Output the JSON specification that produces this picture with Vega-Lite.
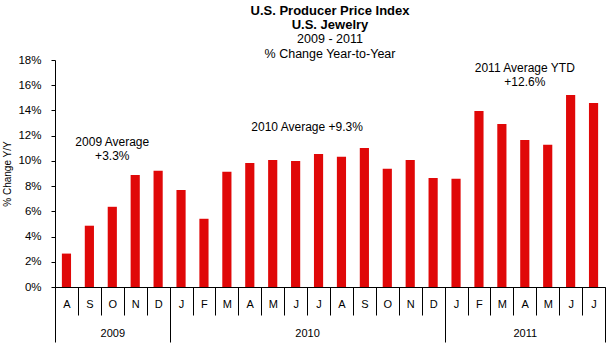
{
  "$schema": "https://vega.github.io/schema/vega-lite/v6.json",
  "width": 550,
  "height": 227,
  "autosize": {"type": "none"},
  "padding": {"left": 55, "top": 60, "right": 8, "bottom": 61},
  "background": "white",
  "config": {
    "font": "Liberation Sans",
    "view": {"stroke": null},
    "axis": {"domainColor": "black", "tickColor": "black", "labelColor": "black", "titleColor": "black", "grid": false, "labelFont": "Liberation Sans", "titleFont": "Liberation Sans"}
  },
  "title": {
    "text": ["U.S. Producer Price Index", "U.S. Jewelry"],
    "subtitle": ["2009 - 2011", "% Change  Year-to-Year"],
    "anchor": "middle",
    "frame": "group",
    "fontSize": 13,
    "fontWeight": "bold",
    "lineHeight": 14,
    "subtitleFontSize": 12.5,
    "subtitleLineHeight": 15,
    "subtitlePadding": 1,
    "subtitleColor": "black",
    "color": "black",
    "offset": -6
  },
  "data": {
    "values": [
      {"key": "2009-08", "value": 2.65},
      {"key": "2009-09", "value": 4.86},
      {"key": "2009-10", "value": 6.36},
      {"key": "2009-11", "value": 8.89},
      {"key": "2009-12", "value": 9.21},
      {"key": "2010-01", "value": 7.7},
      {"key": "2010-02", "value": 5.41},
      {"key": "2010-03", "value": 9.13},
      {"key": "2010-04", "value": 9.84},
      {"key": "2010-05", "value": 10.08},
      {"key": "2010-06", "value": 10.0},
      {"key": "2010-07", "value": 10.55},
      {"key": "2010-08", "value": 10.32},
      {"key": "2010-09", "value": 11.03},
      {"key": "2010-10", "value": 9.37},
      {"key": "2010-11", "value": 10.08},
      {"key": "2010-12", "value": 8.65},
      {"key": "2011-01", "value": 8.58},
      {"key": "2011-02", "value": 13.96},
      {"key": "2011-03", "value": 12.93},
      {"key": "2011-04", "value": 11.66},
      {"key": "2011-05", "value": 11.27},
      {"key": "2011-06", "value": 15.22},
      {"key": "2011-07", "value": 14.59}
    ]
  },
  "resolve": {"axis": {"x": "independent", "y": "independent"}},
  "layer": [
    {
      "mark": {"type": "bar", "color": "#e00808", "width": {"band": 0.4}},
      "encoding": {
        "x": {
          "field": "key", "type": "ordinal",
          "scale": {"paddingInner": 0, "paddingOuter": 0},
          "axis": {
            "orient": "bottom",
            "title": null,
            "tickBand": "extent",
            "tickSize": 28,
            "labelBaseline": "middle",
            "labelPadding": -11,
            "labelAngle": 0,
            "labelFontSize": 11,
            "labelExpr": "['J','F','M','A','M','J','J','A','S','O','N','D'][toNumber(substring(datum.value,5,7))-1]"
          }
        },
        "y": {
          "field": "value", "type": "quantitative",
          "scale": {"domain": [0, 18], "nice": false},
          "axis": {
            "values": [0, 2, 4, 6, 8, 10, 12, 14, 16, 18],
            "labelExpr": "datum.value + '%'",
            "labelFontSize": 11.5,
            "tickSize": 4,
            "labelPadding": 10,
            "title": "% Change Y/Y",
            "titleFontSize": 10,
            "titleFontWeight": "normal",
            "titlePadding": 5
          }
        }
      }
    },
    {
      "mark": {"type": "bar", "opacity": 0},
      "encoding": {
        "x": {
          "field": "key", "type": "ordinal",
          "axis": {
            "orient": "bottom",
            "title": null,
            "domain": false,
            "tickBand": "extent",
            "tickSize": 55,
            "tickOpacity": {"condition": {"test": "!isValid(datum.value) || indexof(['2009-12','2010-12','2011-07'], datum.value) >= 0", "value": 1}, "value": 0},
            "labelBaseline": "middle",
            "labelPadding": -9,
            "labelAngle": 0,
            "labelFontSize": 11,
            "labelOffset": {"condition": {"test": "datum.value === '2010-06'", "value": 11.46}, "value": 0},
            "labelExpr": "datum.value === '2009-10' ? '2009' : datum.value === '2010-06' ? '2010' : datum.value === '2011-04' ? '2011' : ''"
          }
        },
        "y": {"field": "value", "type": "quantitative", "axis": null}
      }
    },
    {
      "data": {"values": [{}]},
      "mark": {"type": "text", "fontSize": 12, "color": "black", "baseline": "middle", "lineHeight": 14},
      "encoding": {
        "text": {"value": ["2009 Average", "+3.3%"]},
        "x": {"datum": "2009-10", "type": "ordinal", "axis": null},
        "y": {"datum": 11.5, "type": "quantitative", "axis": null}
      }
    },
    {
      "data": {"values": [{}]},
      "mark": {"type": "text", "fontSize": 12, "color": "black", "baseline": "middle", "dx": 11.46},
      "encoding": {
        "text": {"value": "2010 Average +9.3%"},
        "x": {"datum": "2010-06", "type": "ordinal", "axis": null},
        "y": {"datum": 12.67, "type": "quantitative", "axis": null}
      }
    },
    {
      "data": {"values": [{}]},
      "mark": {"type": "text", "fontSize": 12, "color": "black", "baseline": "middle", "lineHeight": 14},
      "encoding": {
        "text": {"value": ["2011 Average YTD", "+12.6%"]},
        "x": {"datum": "2011-04", "type": "ordinal", "axis": null},
        "y": {"datum": 17.36, "type": "quantitative", "axis": null}
      }
    }
  ]
}
